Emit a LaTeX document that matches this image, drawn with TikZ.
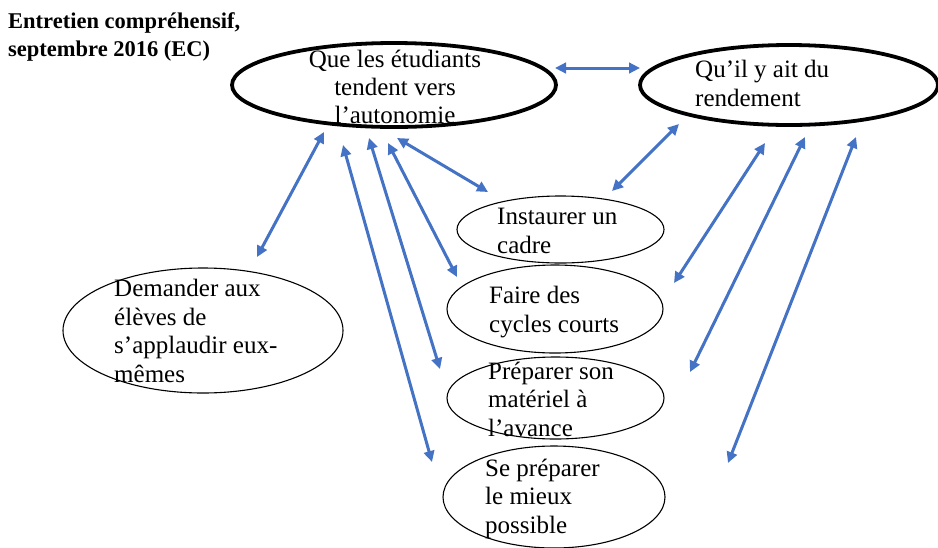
\documentclass[tikz,border=0pt]{standalone}
\usepackage{fontspec}
\setmainfont{Liberation Serif}
\usetikzlibrary{shapes.geometric,arrows.meta}
\definecolor{arrblue}{HTML}{4472C4}
\tikzset{
  thickell/.style={ellipse, draw=black, line width=3.8pt, inner sep=0pt},
  thinell/.style={ellipse, draw=black, line width=1.1pt, inner sep=0pt},
  txt/.style={anchor=base west, align=left, inner sep=0pt, font={\fontsize{25}{28.5}\selectfont}},
  ctxt/.style={anchor=base, align=center, inner sep=0pt, font={\fontsize{25}{28}\selectfont}},
  arr/.style={{Triangle[length=11pt,width=10.5pt]}-{Triangle[length=11pt,width=10.5pt]}, line width=3pt, draw=arrblue},
}
\begin{document}
\begin{tikzpicture}[x=1pt,y=-1pt]
\useasboundingbox (0,0) rectangle (938,547);
% title
\node[anchor=base west, align=left, inner sep=0pt, font={\bfseries\fontsize{22.5}{28}\selectfont}] (title) at (8,56) {Entretien compréhensif,\\septembre 2016 (EC)};
% ellipses
\node[thickell, minimum width=324pt, minimum height=84pt] (aut) at (394,85) {};
\node[thickell, minimum width=298pt, minimum height=80pt] (rend) at (789,85) {};
\node[thinell, minimum width=207pt, minimum height=67pt] (cadre) at (560.5,229.5) {};
\node[thinell, minimum width=216pt, minimum height=88pt] (cycles) at (555,309) {};
\node[thinell, minimum width=217pt, minimum height=82pt] (mat) at (555.5,398) {};
\node[thinell, minimum width=222pt, minimum height=102pt] (mieux) at (554,497) {};
\node[thinell, minimum width=280pt, minimum height=125pt] (appl) at (203,330.5) {};
% texts (anchored at the baseline of the last line)
\node[ctxt] (autT) at (395,123) {Que les étudiants\\tendent vers\\l’autonomie};
\node[txt] (rendT) at (695,106) {Qu’il y ait du\\rendement};
\node[txt] (cadreT) at (497,253) {Instaurer un\\cadre};
\node[txt] (cyclesT) at (489,332) {Faire des\\cycles courts};
\node[txt] (matT) at (488,436) {Préparer son\\matériel à\\l’avance};
\node[txt] (mieuxT) at (485,533) {Se préparer\\le mieux\\possible};
\node[txt] (applT) at (114,382) {Demander aux\\élèves de\\s’applaudir eux-\\mêmes};
% arrow end points
\coordinate (a1) at (555,68);  \coordinate (a2) at (640,68);
\coordinate (b1) at (324,132); \coordinate (b2) at (257,257);
\coordinate (c1) at (343,145); \coordinate (c2) at (432,462);
\coordinate (d1) at (369,138); \coordinate (d2) at (440,369);
\coordinate (e1) at (388,143); \coordinate (e2) at (457,277);
\coordinate (f1) at (397,138); \coordinate (f2) at (488,192);
\coordinate (g1) at (679,124); \coordinate (g2) at (612,191);
\coordinate (h1) at (765,143); \coordinate (h2) at (674,283);
\coordinate (i1) at (805,137); \coordinate (i2) at (690,372);
\coordinate (j1) at (856,137); \coordinate (j2) at (728,463);
% arrows
\draw[arr] (a1) -- (a2);
\draw[arr] (b1) -- (b2);
\draw[arr] (c1) -- (c2);
\draw[arr] (d1) -- (d2);
\draw[arr] (e1) -- (e2);
\draw[arr] (f1) -- (f2);
\draw[arr] (g1) -- (g2);
\draw[arr] (h1) -- (h2);
\draw[arr] (i1) -- (i2);
\draw[arr] (j1) -- (j2);
\end{tikzpicture}
\end{document}
